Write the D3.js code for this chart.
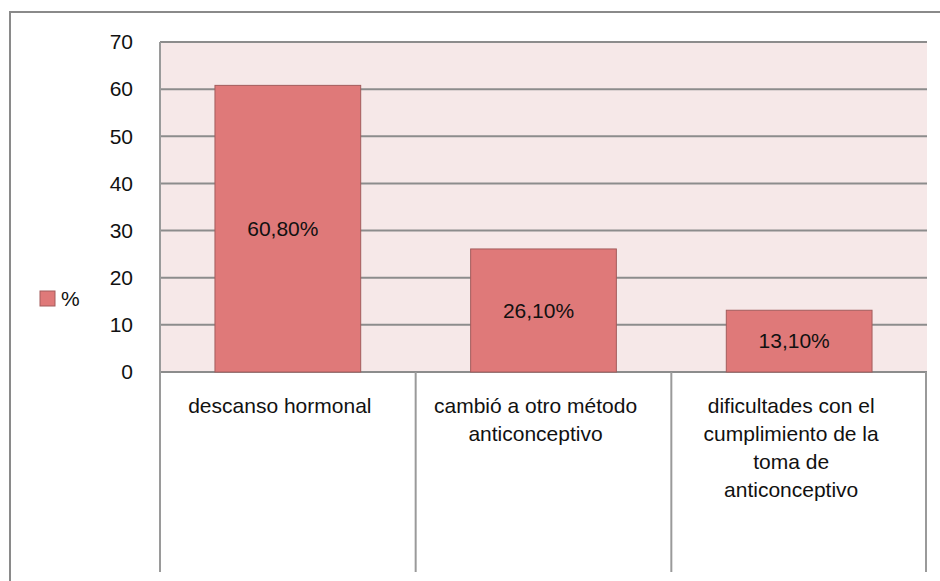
<!DOCTYPE html>
<head>
<meta charset="utf-8">
<style>
body {
  margin: 0;
  background: #fff;
}
svg {
  display: block;
}
.tick text, .catLabel, .valLabel, .legendText {
  font-family: "Liberation Sans", Arial, sans-serif;
  fill: #111;
}
</style>
</head>
<body>
<svg width="940" height="581"></svg>
<script src="https://d3js.org/d3.v7.min.js"></script>
<script>
// data
var categories = ["descanso hormonal", "cambió a otro método anticonceptivo", "dificultades con el cumplimiento de la toma de anticonceptivo"];
var categoryLines = [
  ["descanso hormonal"],
  ["cambió a otro método", "anticonceptivo"],
  ["dificultades con el", "cumplimiento de la", "toma de", "anticonceptivo"]
];
var values = [60.8, 26.1, 13.1];
var valueLabels = ["60,80%", "26,10%", "13,10%"];
var yTicks = [0, 10, 20, 30, 40, 50, 60, 70];
var seriesName = "%";

var svg = d3.select("svg");
var plotL = 160, plotR = 927, plotT = 42, plotB = 372, tableB = 572;

var x = d3.scaleBand()
    .domain(categories)
    .range([plotL, plotR])
    .paddingInner(0.43)
    .paddingOuter(0.215);

var y = d3.scaleLinear()
    .domain([0, 70])
    .range([plotB, plotT]);

// outer frame (only left and top show)
svg.append("path")
    .attr("d", "M10,581 L10,12 L940,12")
    .attr("fill", "none")
    .attr("stroke", "#8a8a8a")
    .attr("stroke-width", 2);

// plot background
svg.append("rect")
    .attr("x", plotL).attr("y", plotT)
    .attr("width", plotR - plotL).attr("height", plotB - plotT)
    .attr("fill", "#f6e8e8");

// gridlines
svg.append("g")
  .selectAll("line")
  .data(yTicks)
  .enter().append("line")
    .attr("x1", plotL).attr("x2", plotR)
    .attr("y1", function(d) { return y(d); })
    .attr("y2", function(d) { return y(d); })
    .attr("stroke", "#8c8c8c")
    .attr("stroke-width", 2);

// category separators below the axis
var edges = [plotL].concat(categories.map(function(c) { return x(c) + x.bandwidth() + x.step() * x.paddingInner() / 2; }));
edges[edges.length - 1] = plotR - 1;
svg.append("g")
  .selectAll("line")
  .data(edges)
  .enter().append("line")
    .attr("x1", function(d) { return d; }).attr("x2", function(d) { return d; })
    .attr("y1", function(d, i) { return i === 0 ? plotT : plotB; })
    .attr("y2", tableB)
    .attr("stroke", "#9a9a9a")
    .attr("stroke-width", 2);

// y axis labels
var yAxis = svg.append("g")
    .attr("transform", "translate(" + (plotL - 27) + ",0)")
    .call(d3.axisLeft(y).tickValues(yTicks).tickSize(0).tickPadding(0));
yAxis.select(".domain").remove();
yAxis.selectAll("text").style("font-size", "21px");

// bars
svg.append("g")
  .selectAll("rect")
  .data(values)
  .enter().append("rect")
    .attr("x", function(d, i) { return x(categories[i]); })
    .attr("y", function(d) { return y(d); })
    .attr("width", x.bandwidth())
    .attr("height", function(d) { return plotB - y(d); })
    .attr("fill", "#df7979")
    .attr("stroke", "#a35c5c")
    .attr("stroke-width", 1);

// value labels in the middle of each bar
svg.append("g")
  .selectAll("text")
  .data(values)
  .enter().append("text")
    .attr("class", "valLabel")
    .attr("x", function(d, i) { return x(categories[i]) + x.bandwidth() / 2 - 5; })
    .attr("y", function(d) { return y(d / 2); })
    .attr("dy", "0.35em")
    .attr("text-anchor", "middle")
    .style("font-size", "21px")
    .text(function(d, i) { return valueLabels[i]; });

// category labels
var cat = svg.append("g")
  .selectAll("text")
  .data(categoryLines)
  .enter().append("text")
    .attr("class", "catLabel")
    .attr("text-anchor", "middle")
    .style("font-size", "21px")
    .attr("transform", function(d, i) { return "translate(" + (x(categories[i]) + x.bandwidth() / 2 - 8) + "," + (plotB + 41) + ")"; });
cat.selectAll("tspan")
  .data(function(d) { return d; })
  .enter().append("tspan")
    .attr("x", 0)
    .attr("y", function(d, i) { return i * 28; })
    .text(function(d) { return d; });

// legend
svg.append("rect")
    .attr("x", 40).attr("y", 291)
    .attr("width", 15).attr("height", 15)
    .attr("fill", "#df7979")
    .attr("stroke", "#a35c5c");
svg.append("text")
    .attr("class", "legendText")
    .attr("x", 61).attr("y", 299)
    .attr("dy", "0.35em")
    .style("font-size", "21px")
    .text(seriesName);
</script>
</body>
